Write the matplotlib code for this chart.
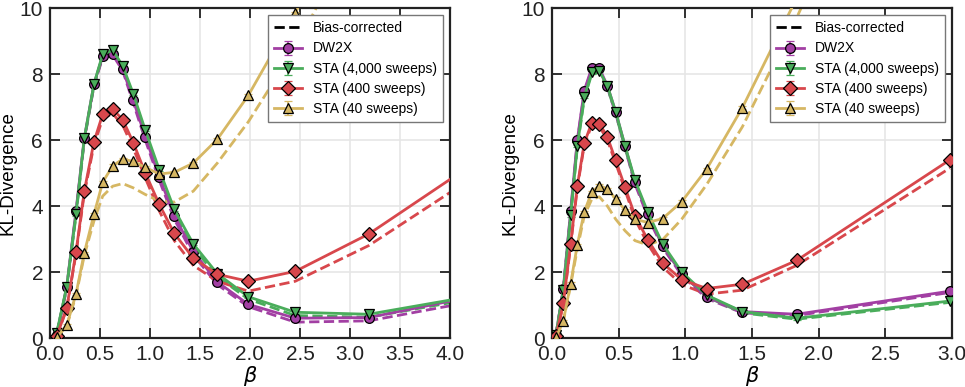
import matplotlib
matplotlib.use('Agg')
import matplotlib.pyplot as plt
from matplotlib.lines import Line2D

plt.rcParams['font.family'] = ['Liberation Sans', 'DejaVu Sans']

# ---- data ----
# left panel
beta_left = [0.067, 0.167, 0.26, 0.343, 0.44, 0.527, 0.627, 0.727, 0.833, 0.953,
             1.093, 1.243, 1.433, 1.673, 1.983, 2.453, 3.187, 4.4]
dw2x_left = [0.1, 1.55, 3.85, 6.05, 7.7, 8.55, 8.62, 8.15, 7.2, 6.1,
             4.88, 3.7, 2.62, 1.7, 1.02, 0.6, 0.62, 1.36]
sta4000_left = [0.15, 1.55, 3.75, 6.05, 7.7, 8.6, 8.72, 8.25, 7.4, 6.3,
                5.1, 3.9, 2.85, 1.95, 1.25, 0.78, 0.72, 1.36]
sta400_left = [0.05, 0.9, 2.6, 4.45, 5.95, 6.78, 6.93, 6.62, 5.92, 5.0,
               4.05, 3.17, 2.42, 1.93, 1.72, 2.02, 3.15, 5.62]
sta40_left = [0.02, 0.38, 1.33, 2.58, 3.75, 4.72, 5.22, 5.42, 5.35, 5.17,
              4.97, 5.02, 5.3, 6.02, 7.35, 9.85, 14.5, 20.0]
dw2x_left_bc = [0.1, 1.5, 3.8, 6.0, 7.65, 8.5, 8.58, 8.1, 7.12, 6.0,
                4.78, 3.6, 2.52, 1.62, 0.95, 0.48, 0.52, 1.2]
sta4000_left_bc = [0.15, 1.5, 3.7, 6.0, 7.65, 8.55, 8.68, 8.2, 7.33, 6.22,
                   5.02, 3.82, 2.75, 1.86, 1.18, 0.68, 0.63, 1.28]
sta400_left_bc = [0.05, 0.88, 2.55, 4.38, 5.85, 6.65, 6.8, 6.45, 5.75, 4.85,
                  3.85, 2.95, 2.2, 1.72, 1.42, 1.72, 2.8, 5.2]
sta40_left_bc = [0.02, 0.36, 1.28, 2.5, 3.55, 4.3, 4.6, 4.68, 4.55, 4.35,
                 4.15, 4.12, 4.45, 5.3, 6.55, 8.8, 13.0, 18.0]

# right panel
beta_right = [0.03, 0.085, 0.14, 0.19, 0.242, 0.298, 0.355, 0.415, 0.478, 0.548,
              0.623, 0.718, 0.83, 0.973, 1.16, 1.428, 1.835, 2.985]
dw2x_right = [0.1, 1.5, 3.85, 6.0, 7.5, 8.18, 8.18, 7.65, 6.85, 5.82,
              4.72, 3.75, 2.8, 1.95, 1.25, 0.8, 0.72, 1.42]
sta4000_right = [0.1, 1.45, 3.72, 5.82, 7.3, 8.05, 8.1, 7.65, 6.85, 5.82,
                 4.78, 3.82, 2.85, 2.0, 1.3, 0.8, 0.6, 1.12]
sta400_right = [0.05, 1.05, 2.85, 4.6, 5.9, 6.52, 6.5, 6.1, 5.38, 4.57,
                3.7, 2.98, 2.27, 1.77, 1.5, 1.63, 2.35, 5.4]
sta40_right = [0.02, 0.52, 1.65, 2.82, 3.82, 4.42, 4.62, 4.52, 4.22, 3.88,
               3.6, 3.5, 3.62, 4.13, 5.12, 6.98, 10.3, 20.0]
dw2x_right_bc = [0.1, 1.48, 3.8, 5.95, 7.45, 8.13, 8.13, 7.6, 6.8, 5.76,
                 4.66, 3.68, 2.74, 1.9, 1.2, 0.76, 0.68, 1.38]
sta4000_right_bc = [0.1, 1.43, 3.68, 5.78, 7.25, 8.0, 8.05, 7.6, 6.8, 5.76,
                    4.72, 3.76, 2.8, 1.95, 1.25, 0.76, 0.57, 1.08]
sta400_right_bc = [0.05, 1.02, 2.8, 4.55, 5.84, 6.45, 6.42, 6.0, 5.3, 4.48,
                   3.6, 2.85, 2.15, 1.62, 1.33, 1.45, 2.2, 5.15]
sta40_right_bc = [0.02, 0.5, 1.6, 2.7, 3.7, 4.2, 4.28, 4.0, 3.6, 3.25,
                  2.95, 2.82, 2.98, 3.6, 4.65, 6.4, 9.7, 20.0]

err = 0.04

labels = ['DW2X', 'STA (4,000 sweeps)', 'STA (400 sweeps)', 'STA (40 sweeps)']
colors = ['#a23fa3', '#4aad5b', '#d8474c', '#d6b763']
markers = ['o', 'v', 'D', '^']
msizes = [7, 7.5, 7, 7]


def draw_panel(ax, beta, solid, dashed, xmax, xticks):
    for ys, yd, lab, c, m, ms in zip(solid, dashed, labels, colors, markers, msizes):
        ax.plot(beta, yd, '--', color=c, lw=2, zorder=2)
        ax.errorbar(beta, ys, yerr=err, color=c, lw=2, marker=m, ms=ms,
                    mfc=c, mec='black', mew=0.9, ecolor=c, elinewidth=1.2,
                    capsize=3, label=lab, zorder=3)
    ax.set_xlim(0, xmax)
    ax.set_ylim(0, 10)
    ax.set_xticks(xticks)
    ax.set_xticklabels(['%.1f' % t for t in xticks])
    ax.set_yticks([0, 2, 4, 6, 8, 10])
    ax.grid(True, color='#e6e6e6', lw=1.2, zorder=0)
    ax.set_axisbelow(True)
    ax.tick_params(direction='in', length=7, width=1.3, top=True, right=True,
                   labelsize=15, pad=5, colors='#222222')
    for s in ax.spines.values():
        s.set_linewidth(1.6)
        s.set_color('#222222')
    ax.set_xlabel(r'$\beta$', fontsize=15, labelpad=0)
    ax.set_ylabel('KL-Divergence', fontsize=13.5, labelpad=2)

    handles, labs = ax.get_legend_handles_labels()
    bc = Line2D([], [], color='black', ls='--', lw=2)
    leg = ax.legend([bc] + handles, ['Bias-corrected'] + labs, loc='upper right',
                    fontsize=10, fancybox=False, framealpha=1, borderpad=0.45,
                    handlelength=2.0, labelspacing=0.45, handletextpad=0.8,
                    borderaxespad=0, bbox_to_anchor=(0.983, 0.979))
    leg.get_frame().set_edgecolor('#777777')
    leg.get_frame().set_linewidth(1.0)


fig = plt.figure(figsize=(9.65, 3.87), dpi=100)
ax1 = fig.add_axes([0.0518, 0.1266, 0.4145, 0.8527])
ax2 = fig.add_axes([0.572, 0.1266, 0.4145, 0.8527])

draw_panel(ax1, beta_left,
           [dw2x_left, sta4000_left, sta400_left, sta40_left],
           [dw2x_left_bc, sta4000_left_bc, sta400_left_bc, sta40_left_bc],
           4.0, [0, 0.5, 1.0, 1.5, 2.0, 2.5, 3.0, 3.5, 4.0])
draw_panel(ax2, beta_right,
           [dw2x_right, sta4000_right, sta400_right, sta40_right],
           [dw2x_right_bc, sta4000_right_bc, sta400_right_bc, sta40_right_bc],
           3.0, [0, 0.5, 1.0, 1.5, 2.0, 2.5, 3.0])

fig.savefig('out.png', dpi=100)
